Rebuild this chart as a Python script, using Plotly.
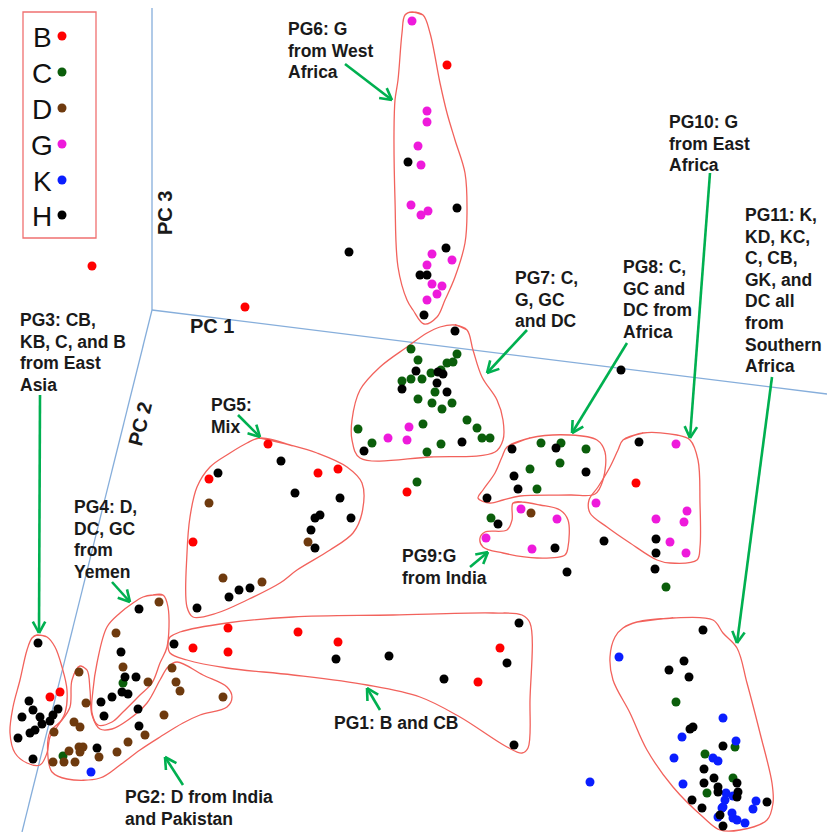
import math
import plotly.graph_objects as go

# ---- haplogroup samples on the projected PC1/PC2/PC3 view (page pixels) ----
pts_B = [(92, 266), (245, 307), (447, 65), (268, 444), (209, 479), (318, 473), (338, 469),
         (193, 542), (228, 628), (193, 648), (228, 652), (298, 632), (338, 642), (478, 682),
         (500, 648), (407, 492), (636, 483), (50, 697), (60, 692)]
pts_C = [(411, 349), (418, 360), (457, 354), (447, 363), (453, 362), (431, 373), (441, 370),
         (402, 381), (411, 379), (422, 379), (435, 392), (418, 399), (432, 403), (452, 403),
         (442, 409), (467, 420), (423, 424), (358, 429), (477, 428), (372, 443), (482, 438),
         (490, 438), (441, 444), (427, 452), (541, 443), (561, 443), (586, 449), (560, 463),
         (530, 469), (537, 489), (491, 518), (417, 482), (666, 587), (123, 683), (63, 756),
         (676, 702), (735, 747), (705, 754), (733, 778), (707, 793)]
pts_D = [(531, 513), (209, 503), (308, 542), (223, 578), (262, 582), (159, 602), (116, 633),
         (123, 667), (148, 682), (79, 672), (86, 703), (172, 668), (176, 682), (180, 691),
         (223, 697), (164, 715), (145, 735), (128, 742), (117, 752), (99, 757), (74, 722),
         (80, 727), (54, 732), (69, 751), (79, 747), (83, 747), (80, 752), (53, 762),
         (64, 762), (75, 762)]
pts_G = [(412, 21), (427, 111), (427, 122), (418, 146), (421, 165), (411, 205), (421, 215),
         (428, 211), (432, 254), (452, 260), (427, 265), (432, 284), (442, 286), (437, 294),
         (427, 300), (409, 427), (388, 438), (407, 440), (521, 509), (557, 519), (486, 538),
         (532, 549), (676, 444), (596, 503), (656, 519), (687, 511), (684, 522), (670, 542),
         (686, 553)]
pts_K = [(91, 772), (590, 782), (619, 657), (723, 718), (682, 737), (736, 741), (674, 758),
         (713, 758), (718, 761), (683, 784), (726, 793), (733, 796), (725, 800), (756, 801),
         (753, 809), (723, 807), (722, 808), (718, 817), (732, 813), (733, 818), (737, 820),
         (745, 823)]
pts_H = [(408, 162), (457, 208), (349, 252), (446, 248), (420, 275), (427, 275), (424, 315),
         (455, 331), (416, 371), (438, 372), (443, 374), (402, 389), (437, 383), (447, 392),
         (462, 442), (364, 451), (621, 370), (512, 449), (556, 448), (586, 472), (514, 476),
         (518, 489), (487, 498), (498, 524), (555, 548), (567, 572), (604, 541), (639, 442),
         (656, 539), (656, 553), (655, 569), (281, 461), (218, 473), (295, 493), (340, 498),
         (320, 515), (315, 518), (351, 518), (311, 530), (315, 548), (250, 588), (239, 590),
         (229, 597), (197, 608), (139, 609), (121, 652), (125, 677), (136, 677),
         (122, 692), (128, 694), (112, 697), (101, 702), (104, 716), (138, 709), (139, 726),
         (97, 748), (174, 644), (336, 659), (389, 656), (444, 679), (519, 623), (507, 663),
         (514, 745), (38, 643), (29, 701), (33, 710), (22, 717), (40, 717), (58, 709),
         (53, 715), (50, 721), (42, 724), (35, 730), (30, 733), (18, 738), (33, 759),
         (703, 630), (684, 661), (669, 670), (689, 677), (690, 729), (693, 727), (723, 746),
         (704, 769), (714, 778), (704, 783), (718, 787), (737, 783), (738, 792), (718, 792),
         (737, 797), (692, 800), (767, 802), (702, 808), (720, 815), (723, 826)]

groups = ["B", "C", "D", "G", "K", "H"]
group_pts = [pts_B, pts_C, pts_D, pts_G, pts_K, pts_H]
group_colors = ["#FF0000", "#0B5E0B", "#6E3A0E", "#EE1ADB", "#0A1EFF", "#000000"]

# ---- cluster outlines ----
outlines = {
    "PG6": [(412, 12), (423, 15), (430, 33), (440, 83), (447, 113), (455, 140), (465, 173),
            (467, 213), (465, 243), (455, 277), (445, 300), (437, 317), (424, 324),
            (413, 310), (407, 300), (398, 267), (395, 200), (394, 133), (395, 100),
            (398, 80), (402, 33), (405, 15)],
    "PG7": [(455, 325), (467, 330), (473, 350), (482, 377), (497, 400), (503, 420),
            (503, 440), (495, 452), (430, 457), (360, 458), (352, 440), (352, 420),
            (360, 390), (380, 367), (407, 347), (427, 333), (440, 327)],
    "PG8": [(507, 447), (530, 438), (570, 435), (597, 440), (605, 452), (603, 480),
            (595, 494), (570, 495), (520, 496), (503, 500), (490, 503), (478, 498),
            (483, 490), (495, 473), (502, 457)],
    "PG9": [(513, 503), (522, 502), (540, 505), (560, 510), (568, 520), (568, 547),
            (565, 555), (537, 558), (503, 553), (483, 547), (480, 538), (485, 532),
            (507, 530), (512, 520)],
    "PG10": [(623, 440), (643, 433), (677, 435), (690, 440), (698, 460), (700, 503),
             (700, 547), (697, 560), (670, 563), (657, 560), (630, 543), (607, 527),
             (590, 513), (589, 500), (598, 487), (610, 467), (618, 450)],
    "PG11": [(637, 622), (673, 618), (713, 620), (723, 633), (737, 648), (747, 683),
             (760, 733), (772, 783), (773, 803), (767, 820), (740, 830), (720, 830),
             (703, 817), (673, 787), (647, 750), (630, 713), (613, 680), (610, 657),
             (615, 637), (623, 628)],
    "PG5": [(260, 438), (290, 445), (317, 453), (347, 467), (362, 483), (362, 513),
            (353, 533), (330, 550), (297, 570), (280, 583), (247, 600), (217, 613),
            (193, 617), (187, 607), (187, 553), (190, 517), (197, 487), (210, 467),
            (230, 453), (247, 443)],
    "PG1": [(170, 637), (180, 632), (227, 623), (293, 617), (393, 615), (493, 613),
            (522, 615), (530, 623), (530, 700), (528, 748), (522, 753), (507, 747),
            (460, 717), (420, 697), (367, 685), (293, 675), (227, 668), (187, 660),
            (170, 653), (168, 643)],
    "PG4": [(153, 595), (163, 595), (168, 607), (167, 647), (160, 663), (152, 683),
            (140, 695), (123, 712), (112, 722), (98, 725), (92, 713), (93, 690),
            (97, 663), (107, 627), (120, 613), (133, 603), (143, 597)],
    "PG2": [(80, 666), (87, 670), (90, 690), (92, 715), (100, 729), (112, 729),
            (128, 720), (147, 703), (160, 680), (168, 667), (177, 662), (203, 675),
            (227, 687), (232, 697), (227, 707), (200, 715), (183, 723), (160, 737),
            (140, 750), (120, 765), (100, 778), (67, 779), (52, 772), (48, 757),
            (50, 732), (62, 720), (70, 707), (72, 680)],
    "PG3": [(37, 635), (47, 637), (55, 647), (62, 667), (67, 690), (65, 713), (57, 727),
            (50, 737), (47, 753), (40, 765), (27, 763), (15, 753), (10, 733), (13, 707),
            (20, 680), (27, 650), (32, 638)],
}

# ---- cluster labels: lines, left x, centre y of first line ----
labels = [
    (["PG6: G", "from West", "Africa"], 286, 29),
    (["PG7: C,", "G, GC", "and DC"], 513, 278),
    (["PG8: C,", "GC and", "DC from", "Africa"], 621, 267),
    (["PG10: G", "from East", "Africa"], 667, 122),
    (["PG11: K,", "KD, KC,", "C, CB,", "GK, and", "DC all", "from", "Southern", "Africa"], 743, 215),
    (["PG3: CB,", "KB, C, and B", "from East", "Asia"], 18, 320),
    (["PG4: D,", "DC, GC", "from", "Yemen"], 72, 507),
    (["PG5:", "Mix"], 209, 405),
    (["PG9:G", "from India"], 400, 556),
    (["PG1: B and CB"], 332, 723),
    (["PG2: D from India", "and Pakistan"], 123, 797),
]
line_gap = 21.6

# ---- pointer arrows (tail -> head) ----
arrows = [((345, 64), (392, 100)), ((527, 330), (487, 373)), ((627, 343), (572, 433)),
          ((710, 173), (690, 438)), ((772, 377), (737, 643)), ((40, 395), (39, 633)),
          ((112, 582), (130, 602)), ((238, 415), (260, 437)), ((470, 567), (488, 552)),
          ((380, 710), (367, 688)), ((183, 785), (165, 757))]

# ---- PC axes (origin and end points) ----
pc_origin = (152, 310)
pc_ends = {"PC 3": (152, 8), "PC 1": (827, 394), "PC 2": (22, 832)}
pc_labels = [("PC 3", 165, 213, -90), ("PC 1", 212, 326, 0), ("PC 2", 140, 424, -76)]

fig = go.Figure()

axis_col = "#86AEDB"
shapes = []
for name, end in pc_ends.items():
    shapes.append(dict(type="line", x0=pc_origin[0], y0=pc_origin[1], x1=end[0], y1=end[1],
                       line=dict(color=axis_col, width=1.3), layer="below"))

# legend frame
shapes.append(dict(type="rect", x0=23, y0=12, x1=96, y1=238,
                   line=dict(color="#F07070", width=1.3)))

outline_col = "#F2625C"
for name, poly in outlines.items():
    xs = [p[0] for p in poly] + [poly[0][0], poly[1][0]]
    ys = [p[1] for p in poly] + [poly[0][1], poly[1][1]]
    fig.add_trace(go.Scatter(x=xs, y=ys, mode="lines", line=dict(color=outline_col, width=1.3,
                             shape="spline", smoothing=1.0), hoverinfo="skip", showlegend=False))

arrow_col = "#00B050"
for (x0, y0), (x1, y1) in arrows:
    fig.add_trace(go.Scatter(x=[x0, x1], y=[y0, y1], mode="lines",
                             line=dict(color=arrow_col, width=2.6), hoverinfo="skip", showlegend=False))
    ang = math.atan2(y0 - y1, x0 - x1)
    hx, hy = [], []
    for d in (0.5, -0.5):
        hx += [x1 + 13 * math.cos(ang + d), x1, None]
        hy += [y1 + 13 * math.sin(ang + d), y1, None]
    fig.add_trace(go.Scatter(x=hx, y=hy, mode="lines", line=dict(color=arrow_col, width=2.6),
                             hoverinfo="skip", showlegend=False))

for g, pts, col in zip(groups, group_pts, group_colors):
    fig.add_trace(go.Scatter(x=[p[0] for p in pts], y=[p[1] for p in pts], mode="markers",
                             marker=dict(color=col, size=9, line=dict(width=0)), name=g,
                             showlegend=False))

# legend keys
legend_y = [36, 72, 108, 144, 180, 215]
fig.add_trace(go.Scatter(x=[62] * len(groups), y=legend_y, mode="markers",
                         marker=dict(color=group_colors, size=9), hoverinfo="skip", showlegend=False))

annotations = []
for g, y in zip(groups, legend_y):
    annotations.append(dict(x=42, y=y + 1, text=g, showarrow=False, xanchor="center", yanchor="middle",
                            font=dict(family="Liberation Sans Narrow, Liberation Sans", size=28,
                                      color="#111111")))

bold = "Liberation Sans"
for lines, x, y in labels:
    for i, t in enumerate(lines):
        annotations.append(dict(x=x, y=y + i * line_gap, text="<b>" + t + "</b>", showarrow=False,
                                xanchor="left", yanchor="middle",
                                font=dict(family=bold, size=17.5, color="#1A1A1A")))

for t, x, y, a in pc_labels:
    annotations.append(dict(x=x, y=y, text="<b>" + t + "</b>", showarrow=False, textangle=a,
                            xanchor="center", yanchor="middle",
                            font=dict(family=bold, size=20, color="#1A1A1A")))

fig.update_layout(
    width=827, height=832, margin=dict(l=0, r=0, t=0, b=0),
    paper_bgcolor="white", plot_bgcolor="white",
    xaxis=dict(range=[0, 827], visible=False, fixedrange=True),
    yaxis=dict(range=[832, 0], visible=False, fixedrange=True),
    shapes=shapes, annotations=annotations, showlegend=False,
)

fig.write_html("out.html")
